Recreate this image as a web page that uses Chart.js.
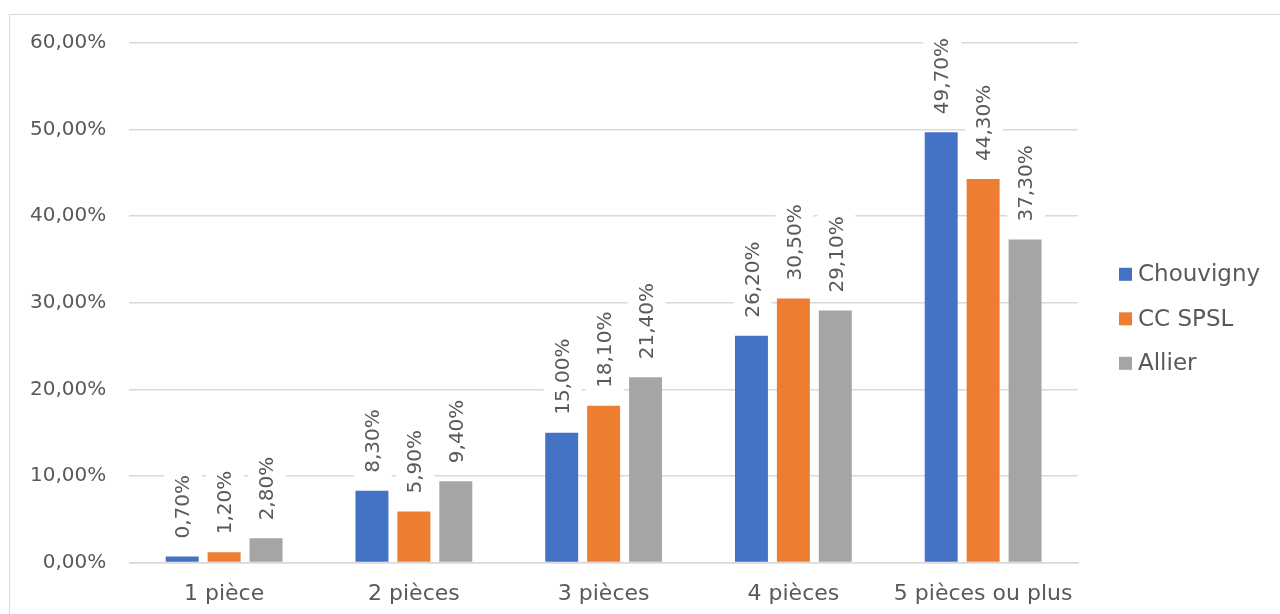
<!DOCTYPE html>
<html>
<head>
<meta charset="utf-8">
<script src="https://cdn.jsdelivr.net/npm/chart.js@4"></script>
<style>
  html, body { margin: 0; padding: 0; background: #fff; overflow: hidden; }
  #frame {
    position: absolute; left: 9px; top: 14px; width: 1300px; height: 700px;
    border-left: 1.5px solid #d9d9d9; border-top: 1.5px solid #d9d9d9;
  }
  #wrap { position: absolute; left: 0; top: 0; width: 1280px; height: 633px; }
</style>
</head>
<body>
<div id="frame"></div>
<div id="wrap"><canvas id="piecesChart"></canvas></div>
<script>
const categories = ['1 pièce', '2 pièces', '3 pièces', '4 pièces', '5 pièces ou plus'];
const chouvigny = [0.7, 8.3, 15.0, 26.2, 49.7];
const ccSpsl = [1.2, 5.9, 18.1, 30.5, 44.3];
const allier = [2.8, 9.4, 21.4, 29.1, 37.3];
const yTicks = [0, 10, 20, 30, 40, 50, 60];

const textColor = '#595959';
const fontFamily = '"DejaVu Sans", sans-serif';

// 12.3 -> "12,30%"
function pct(v) {
  return v.toFixed(2).replace('.', ',') + '%';
}

// vertical value labels above each bar, on a white box
const barLabels = {
  id: 'barLabels',
  afterDatasetsDraw(chart) {
    const ctx = chart.ctx;
    ctx.save();
    ctx.font = '20px ' + fontFamily;
    ctx.textBaseline = 'middle';
    chart.data.datasets.forEach((ds, i) => {
      chart.getDatasetMeta(i).data.forEach((bar, j) => {
        const txt = pct(ds.data[j]);
        const w = ctx.measureText(txt).width;
        ctx.save();
        ctx.translate(bar.x + 1, bar.y - 18);
        ctx.rotate(-Math.PI / 2);
        ctx.fillStyle = '#fff';
        ctx.fillRect(-5, -19, w + 10, 38);
        ctx.fillStyle = textColor;
        ctx.fillText(txt, 0, 1);
        ctx.restore();
      });
    });
    ctx.restore();
  }
};

// legend on the right, drawn next to the plot area
const sideLegend = {
  id: 'sideLegend',
  afterDraw(chart) {
    const ctx = chart.ctx;
    const area = chart.chartArea;
    const rowGap = 44.5;
    const n = chart.data.datasets.length;
    const x = area.right + 41;
    const y0 = (area.top + area.bottom) / 2 + 16 - rowGap * (n - 1) / 2;
    ctx.save();
    ctx.font = '23px ' + fontFamily;
    ctx.textBaseline = 'middle';
    chart.data.datasets.forEach((ds, i) => {
      const y = y0 + i * rowGap;
      ctx.fillStyle = ds.backgroundColor;
      ctx.fillRect(x, y - 6.5, 13, 13);
      ctx.fillStyle = textColor;
      ctx.fillText(ds.label, x + 19, y + 1);
    });
    ctx.restore();
  }
};

const ctx = document.getElementById('piecesChart').getContext('2d');
new Chart(ctx, {
  type: 'bar',
  data: {
    labels: categories,
    datasets: [
      { label: 'Chouvigny', data: chouvigny, backgroundColor: '#4472C4' },
      { label: 'CC SPSL', data: ccSpsl, backgroundColor: '#ED7D31' },
      { label: 'Allier', data: allier, backgroundColor: '#A5A5A5' }
    ]
  },
  options: {
    responsive: true,
    maintainAspectRatio: false,
    animation: false,
    datasets: {
      bar: { categoryPercentage: 0.663, barPercentage: 0.786 }
    },
    layout: { padding: { top: 43, left: 7, right: 202, bottom: 8 } },
    plugins: {
      tooltip: { enabled: false },
      legend: { display: false }
    },
    scales: {
      x: {
        grid: { display: false, drawTicks: false },
        border: { color: '#d9d9d9', width: 1.5 },
        ticks: {
          color: textColor,
          padding: 18,
          autoSkip: false,
          minRotation: 0,
          maxRotation: 0,
          font: { family: fontFamily, size: 22 }
        }
      },
      y: {
        min: yTicks[0],
        max: yTicks[yTicks.length - 1],
        afterBuildTicks: (axis) => { axis.ticks = yTicks.map(v => ({ value: v })); },
        grid: { color: '#d9d9d9', lineWidth: 1.5, drawTicks: false },
        border: { display: false },
        ticks: {
          color: textColor,
          padding: 23,
          font: { family: fontFamily, size: 20 },
          callback: (v) => pct(v)
        }
      }
    }
  },
  plugins: [barLabels, sideLegend]
});
</script>
</body>
</html>
